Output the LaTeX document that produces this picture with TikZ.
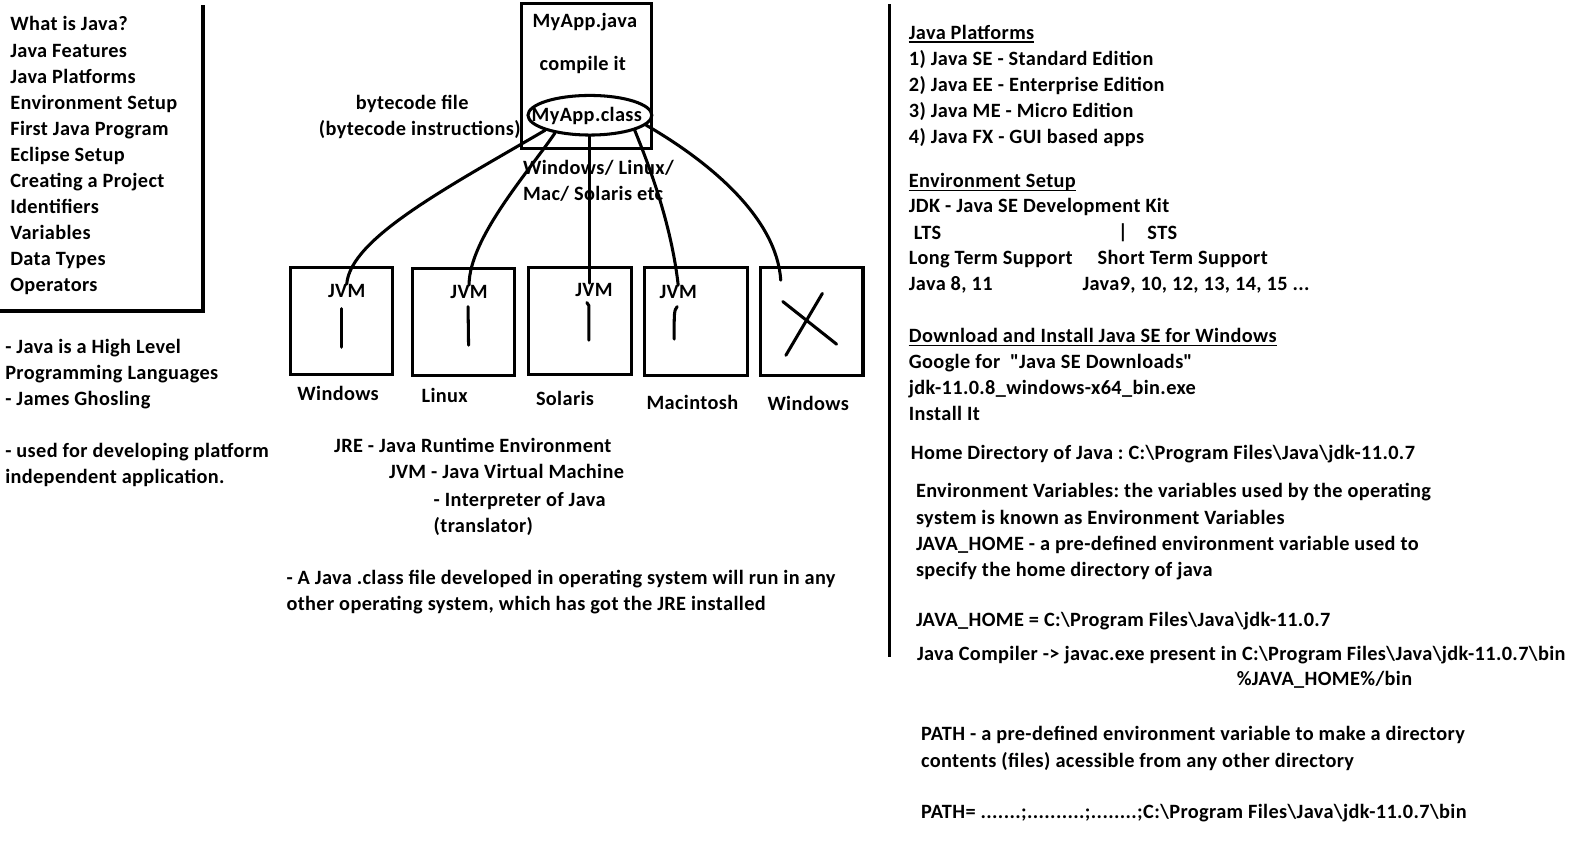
\documentclass[tikz,border=0pt]{standalone}
\usepackage{fontspec}
\setmainfont{Carlito}[LetterSpace=1.8]
\usetikzlibrary{shapes.geometric}
\frenchspacing

\begin{document}
\begin{tikzpicture}[x=1pt,y=-1pt,
  txt/.style={anchor=base west, inner sep=0pt, align=left, yshift=-1.5pt},
  ctxt/.style={anchor=base, inner sep=0pt, yshift=-1pt},
  osbox/.style={draw, line width=3pt, minimum width=101pt, minimum height=106pt, inner sep=0pt},
  wire/.style={line width=3pt, line cap=round}]
  \tikzstyle{every node}=[font=\bfseries\fontsize{20}{25.7}\selectfont]
  \useasboundingbox[fill=white] (0,0) rectangle (1570,849);
  % multi-line texts are placed at the baseline of their last line

  %Left panel: list of topics
  \draw[line width=4pt] (200,5) -- (200,306) -- (0,306);
  \node[txt] (topics) at (10,286) {What is Java?\\Java Features\\Java Platforms\\
    Environment Setup\\First Java Program\\Eclipse Setup\\Creating a Project\\
    Identifiers\\Variables\\Data Types\\Operators};
  \node[txt] (about) at (5,398) {- Java is a High Level\\Programming Languages\\- James Ghosling};
  \node[txt] (usedFor) at (5,475) {- used for developing platform\\independent application.};

  %Source file and class file
  \node[draw, line width=3pt, minimum width=128pt, minimum height=143pt, inner sep=0pt] (src) at (577.5,74.5) {};
  \node[ctxt] (srcTxt) at (576,26.5) {MyApp.java};
  \node[ctxt] (cmpTxt) at (574,68.5) {compile it};
  \node[ellipse, draw, line width=3pt, minimum width=122pt, minimum height=39pt, inner sep=0pt] (cls) at (581,113.5) {};
  \node (clsTxt) at ([xshift=-3pt,yshift=-1pt]cls.center) {MyApp.class};
  \node[ctxt] (bcTxt) at (406,107) {bytecode file};
  \node[ctxt] (bciTxt) at (413.5,132.5) {(bytecode instructions)};
  \node[txt] (osTxt) at (515,196) {Windows/ Linux/\\Mac/ Solaris etc};

  %Operating systems with JVM
  \node[osbox] (boxA) at (336.5,316) {};
  \node[osbox] (boxB) at (456.5,317) {};
  \node[osbox] (boxC) at (571.5,316) {};
  \node[osbox] (boxD) at (685.5,316.5) {};
  \node[osbox] (boxE) at (799.5,316.5) {};
  \node[ctxt] (jvmA) at (341.5,292) {JVM};
  \node[ctxt] (jvmB) at (462,293) {JVM};
  \node[ctxt] (jvmC) at (585,291) {JVM};
  \node[ctxt] (jvmD) at (668,293) {JVM};
  \coordinate (noJvm) at (769,276);
  \node[ctxt] (osA) at (333,393.5) {Windows};
  \node[ctxt] (osB) at (438,395) {Linux};
  \node[ctxt] (osC) at (556.5,398.5) {Solaris};
  \node[ctxt] (osD) at (682,402) {Macintosh};
  \node[ctxt] (osE) at (796,403) {Windows};

  %strokes inside the boxes
  \draw[wire] (336,304) -- (336,342);
  \draw[wire] (461,302) -- (461.5,340);
  \draw[wire] (578,298) -- (580,301) -- (580,335);
  \draw[wire] (667,302) .. controls (664,306) .. (664,334);
  \draw[wire] (771,297) -- (824,339);
  \draw[wire] (810,289) -- (774,350);

  %class file goes to every OS
  \draw[wire] (cls.south west) .. controls (440,185) and (345,235) .. (jvmA.north);
  \draw[wire] (cls.207) .. controls (520,170) and (462,235) .. (jvmB.north);
  \draw[wire] (cls.south) -- (cls.south |- jvmC.north);
  \draw[wire] (cls.south east) .. controls (640,165) and (661,220) .. (jvmD.north);
  \draw[wire] (cls.350) .. controls (700,160) and (765,215) .. (noJvm);

  %JRE and JVM
  \node[txt] (jre) at (329,444) {JRE - Java Runtime Environment};
  \node[txt] (jvm) at (383,470) {JVM - Java Virtual Machine};
  \node[txt] (interp) at (427,523) {- Interpreter of Java\\(translator)};
  \node[txt] (runAny) at (282,600) {- A Java .class file developed in operating system will run in any\\
    other operating system, which has got the JRE installed};

  %Right panel
  \draw[line width=3pt] (876,4) -- (876,647);
  \node[txt] (hdPlat) at (895,37) {Java Platforms};
  \node[txt] (plat) at (895,140) {1) Java SE - Standard Edition\\2) Java EE - Enterprise Edition\\
    3) Java ME - Micro Edition\\4) Java FX - GUI based apps};
  \node[txt] (hdEnv) at (895,183) {Environment Setup};
  \node[txt] (jdk) at (895,208) {JDK - Java SE Development Kit};
  \node[txt] (lts) at (900,234) {LTS};
  \node[ctxt] (bar) at (1106,234) {|};
  \node[txt] (sts) at (1130,234) {STS};
  \node[txt] (ltsLong) at (895,259) {Long Term Support};
  \node[txt] (stsLong) at (1081,259) {Short Term Support};
  \node[txt] (ltsVer) at (895,285) {Java 8, 11};
  \node[txt] (stsVer) at (1066,285) {Java9, 10, 12, 13, 14, 15 ...};
  \node[txt] (hdDl) at (895,336) {Download and Install Java SE for Windows};
  \node[txt] (dl) at (895,412.5) {Google for \ \textquotedbl Java SE Downloads\textquotedbl\\jdk-11.0.8\_windows-x64\_bin.exe\\Install It};
  \node[txt] (home) at (897,451) {Home Directory of Java : C:\textbackslash Program Files\textbackslash Java\textbackslash jdk-11.0.7};
  \node[txt] (envVar) at (902,566) {Environment Variables: the variables used by the operating\\
    system is known as Environment Variables\\
    JAVA\_HOME - a pre-defined environment variable used to\\
    specify the home directory of java};
  \node[txt] (javaHome) at (902,616) {JAVA\_HOME = C:\textbackslash Program Files\textbackslash Java\textbackslash jdk-11.0.7};
  \node[txt] (javac) at (903,649) {Java Compiler -> javac.exe present in C:\textbackslash Program Files\textbackslash Java\textbackslash jdk-11.0.7\textbackslash bin};
  \node[txt] (binVar) at (1218,674) {\%JAVA\_HOME\%/bin};
  \node[txt] (pathVar) at (907,754) {PATH - a pre-defined environment variable to make a directory\\
    contents (files) acessible from any other directory};
  \node[txt] (pathVal) at (907,805) {PATH= .......;..........;........;C:\textbackslash Program Files\textbackslash Java\textbackslash jdk-11.0.7\textbackslash bin};

  %underlines of the headings
  \foreach \hd in {hdPlat, hdEnv, hdDl}
    \draw[line width=1.5pt] ([yshift=-3pt]\hd.base west) -- ([yshift=-3pt]\hd.base east);
\end{tikzpicture}
\end{document}
